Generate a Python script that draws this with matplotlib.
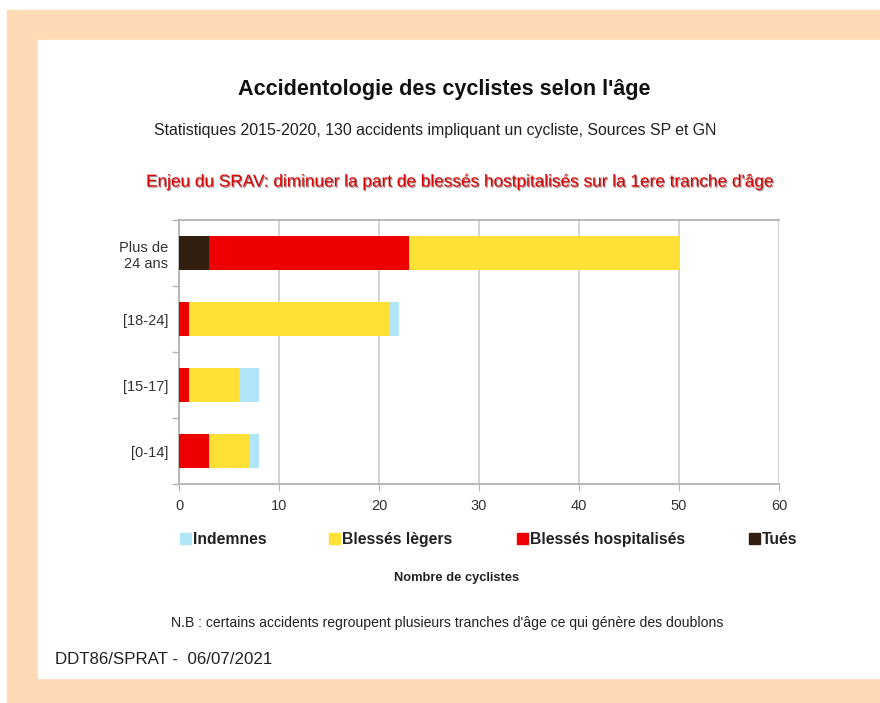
import matplotlib.pyplot as plt
import matplotlib.patheffects as pe
from matplotlib.patches import Rectangle
import numpy as np

plt.rcParams['font.family'] = ['Liberation Sans', 'DejaVu Sans']

W, H = 880, 703

categories = ["[0-14]", "[15-17]", "[18-24]", "Plus de\n24 ans"]
tues = [0, 0, 0, 3]
hospitalises = [3, 1, 1, 20]
legers = [4, 5, 20, 27]
indemnes = [1, 2, 1, 0]

series = [
    ("Tués", tues, "#321f10"),
    ("Blessés hospitalisés", hospitalises, "#ee0000"),
    ("Blessés lègers", legers, "#ffe135"),
    ("Indemnes", indemnes, "#b0e6f8"),
]


def fx(px):
    return px / W


def fy(py):
    return 1 - py / H


def main():
    fig = plt.figure(figsize=(W / 100, H / 100), dpi=100)
    fig.patch.set_facecolor("white")

    # frame
    fig.patches.append(Rectangle((fx(7), fy(703)), fx(880 - 7), 693 / H,
                                 transform=fig.transFigure, color="#ffdab5", zorder=-3))
    fig.patches.append(Rectangle((fx(38), fy(678)), fx(880 - 38), 638 / H,
                                 transform=fig.transFigure, color="white", zorder=-2))

    ax = fig.add_axes([fx(179), fy(484), fx(600), 264 / H])
    ax.set_facecolor("none")
    ax.set_zorder(1)

    y = np.arange(len(categories))
    left = np.zeros(len(categories))
    for name, vals, col in series:
        vals = np.array(vals, dtype=float)
        ax.barh(y, vals, left=left, height=0.515, color=col, zorder=3)
        left += vals

    ax.set_xlim(0, 60)
    ax.set_ylim(-0.5, 3.5)
    ax.set_xticks(np.arange(0, 61, 10))
    ax.set_yticks(y)
    ax.set_yticklabels(categories, fontsize=10.5, color="#333333")
    ax.set_yticks(np.arange(-0.5, 4, 1), minor=True)
    ax.tick_params(axis="y", which="major", length=0, pad=8)
    ax.tick_params(axis="y", which="minor", length=5, color="#b3b3b3", width=1)
    ax.tick_params(axis="x", length=5, color="#b3b3b3", labelsize=10.5,
                   labelcolor="#333333", pad=6)
    ax.grid(axis="x", color="#d0d0d0", linewidth=1.3, zorder=0)
    ax.spines["right"].set_visible(False)
    for s in ["left", "bottom", "top"]:
        ax.spines[s].set_color("#b3b3b3")
        ax.spines[s].set_linewidth(1.3)

    order = ["Indemnes", "Blessés lègers", "Blessés hospitalisés", "Tués"]
    leg_x = [180, 329, 517, 749]
    for name, px in zip(order, leg_x):
        col = [c for n, _, c in series if n == name][0]
        fig.patches.append(Rectangle((fx(px), fy(544)), fx(11), 11 / H,
                                     transform=fig.transFigure, color=col))
        fig.text(fx(px + 13), fy(544), name, fontsize=11.3, fontweight="bold",
                 color="#222222", va="baseline", ha="left")

    fig.text(fx(444), fy(89), "Accidentologie des cyclistes selon l'âge",
             fontsize=15.6, fontweight="bold", ha="center", va="center", color="#111111")
    fig.text(fx(435), fy(131),
             "Statistiques 2015-2020, 130 accidents impliquant un cycliste, Sources SP et GN",
             fontsize=11.4, ha="center", va="center", color="#222222")
    fig.text(fx(461), fy(182),
             "Enjeu du SRAV: diminuer la part de blessés hostpitalisés sur la 1ere tranche d'âge",
             fontsize=12.4, ha="center", va="center", color="#dd0000",
             path_effects=[pe.withSimplePatchShadow(offset=(0.8, -0.8),
                                                    shadow_rgbFace="#400000", alpha=0.5)])
    fig.text(fx(457), fy(578), "Nombre de cyclistes", fontsize=9.3,
             fontweight="bold", ha="center", va="center", color="#222222")
    fig.text(fx(447), fy(623),
             "N.B : certains accidents regroupent plusieurs tranches d'âge ce qui génère des doublons",
             fontsize=10.1, ha="center", va="center", color="#222222")
    fig.text(fx(55), fy(659), "DDT86/SPRAT -  06/07/2021", fontsize=12.2,
             ha="left", va="center", color="#222222")

    fig.savefig("out.png", dpi=100)


if __name__ == '__main__':
    main()
